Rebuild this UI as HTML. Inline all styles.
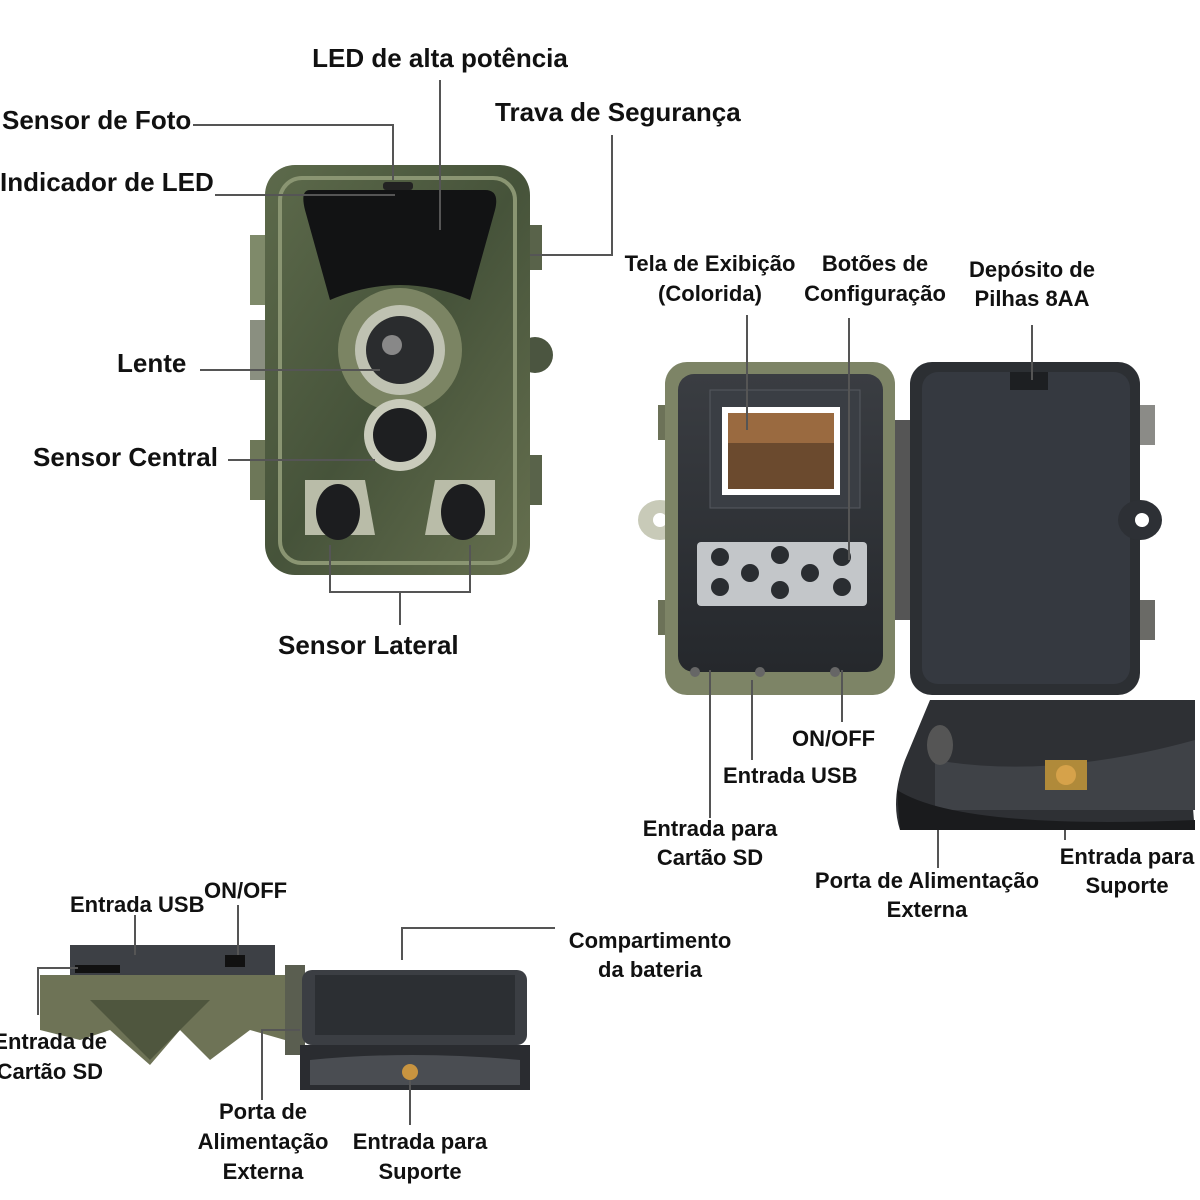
<!DOCTYPE html>
<html><head><meta charset="utf-8"><style>
html,body{margin:0;padding:0;background:#fff}
svg{display:block}
text{font-family:"Liberation Sans",sans-serif;font-weight:bold;fill:#111}
</style></head><body>
<svg width="1200" height="1200" viewBox="0 0 1200 1200" xmlns="http://www.w3.org/2000/svg">
<defs>
<linearGradient id="cam" x1="0" y1="0" x2="1" y2="1"><stop offset="0" stop-color="#5d6a4b"/><stop offset=".5" stop-color="#46533a"/><stop offset="1" stop-color="#66704f"/></linearGradient>
<linearGradient id="dark" x1="0" y1="0" x2="0" y2="1"><stop offset="0" stop-color="#3a3d42"/><stop offset="1" stop-color="#25282c"/></linearGradient>
</defs>
<rect x="250" y="235" width="30" height="70" fill="#7f8a6a"/>
<rect x="250" y="320" width="30" height="60" fill="#8a8f80"/>
<rect x="250" y="440" width="30" height="60" fill="#6d7758"/>
<rect x="520" y="225" width="22" height="45" fill="#59634a"/>
<rect x="520" y="455" width="22" height="50" fill="#59634a"/>
<circle cx="535" cy="355" r="18" fill="#4b5540"/>
<rect x="265" y="165" width="265" height="410" rx="30" fill="url(#cam)"/>
<rect x="280" y="178" width="235" height="385" rx="22" fill="none" stroke="#8a9572" stroke-width="4"/>
<path d="M310 190 H485 Q500 190 495 210 L470 300 Q400 270 330 300 L305 210 Q300 190 310 190Z" fill="#121314"/>
<rect x="383" y="182" width="30" height="8" rx="3" fill="#222"/>
<circle cx="400" cy="350" r="62" fill="#7b8463"/>
<circle cx="400" cy="350" r="45" fill="#bfc2b2"/>
<circle cx="400" cy="350" r="34" fill="#2a2c2e"/>
<circle cx="392" cy="345" r="10" fill="#888"/>
<circle cx="400" cy="435" r="36" fill="#c9cbbb"/>
<circle cx="400" cy="435" r="27" fill="#1e1f21"/>
<path d="M305 480 h60 l10 55 h-70Z" fill="#b9bca8"/>
<path d="M435 480 h60 v55 h-70Z" fill="#b9bca8"/>
<ellipse cx="338" cy="512" rx="22" ry="28" fill="#1c1d1f"/>
<ellipse cx="463" cy="512" rx="22" ry="28" fill="#1c1d1f"/>
<g stroke="#555" stroke-width="2" fill="none">
<path d="M193 125 H393 V180"/>
<path d="M215 195 H395"/>
<path d="M440 80 V230"/>
<path d="M612 135 V255 H530"/>
<path d="M200 370 H380"/>
<path d="M228 460 H375"/>
<path d="M330 545 V592 H470 V545"/>
<path d="M400 592 V625"/>
</g>
<text x="440" y="67" font-size="26" text-anchor="middle">LED de alta potência</text>
<text x="2" y="129" font-size="26">Sensor de Foto</text>
<text x="495" y="121" font-size="26">Trava de Segurança</text>
<text x="0" y="191" font-size="26">Indicador de LED</text>
<text x="117" y="372" font-size="26">Lente</text>
<text x="33" y="466" font-size="26">Sensor Central</text>
<text x="278" y="654" font-size="26">Sensor Lateral</text>

<rect x="658" y="405" width="15" height="35" fill="#6c7258"/>
<rect x="658" y="600" width="15" height="35" fill="#6c7258"/>
<ellipse cx="660" cy="520" rx="22" ry="20" fill="#c8cab8"/>
<circle cx="660" cy="520" r="7" fill="#fff"/>
<rect x="665" y="362" width="230" height="333" rx="22" fill="#7d8466"/>
<rect x="678" y="374" width="205" height="298" rx="16" fill="url(#dark)"/>
<rect x="895" y="420" width="20" height="200" fill="#555"/>
<rect x="910" y="362" width="230" height="333" rx="22" fill="#2c2f33"/>
<rect x="922" y="372" width="208" height="312" rx="16" fill="#353940"/>
<rect x="1010" y="372" width="38" height="18" fill="#1d1f22"/>
<rect x="1140" y="405" width="15" height="40" fill="#8b8b87"/>
<rect x="1140" y="600" width="15" height="40" fill="#6a6a66"/>
<ellipse cx="1140" cy="520" rx="22" ry="20" fill="#2d3035"/>
<circle cx="1142" cy="520" r="7" fill="#fff"/>
<rect x="710" y="390" width="150" height="118" fill="#3a3e44" stroke="#55595f"/>
<rect x="722" y="407" width="118" height="88" fill="#fff"/>
<rect x="728" y="413" width="106" height="76" fill="#6b4a2e"/>
<rect x="728" y="413" width="106" height="30" fill="#9a6a40"/>
<rect x="697" y="542" width="170" height="64" rx="4" fill="#c3c6c9"/>
<g fill="#2a2d31">
<circle cx="720" cy="557" r="9"/><circle cx="720" cy="587" r="9"/>
<circle cx="780" cy="555" r="9"/><circle cx="750" cy="573" r="9"/><circle cx="810" cy="573" r="9"/><circle cx="780" cy="590" r="9"/>
<circle cx="842" cy="557" r="9"/><circle cx="842" cy="587" r="9"/>
</g>
<g fill="#666"><circle cx="695" cy="672" r="5"/><circle cx="760" cy="672" r="5"/><circle cx="835" cy="672" r="5"/></g>
<g stroke="#555" stroke-width="2" fill="none">
<path d="M747 315 V430"/>
<path d="M849 318 V560"/>
<path d="M1032 325 V380"/>
<path d="M710 670 V818"/>
<path d="M752 680 V760"/>
<path d="M842 670 V722"/>
<path d="M938 755 V868"/>
<path d="M1065 790 V840"/>
</g>
<text x="710" y="271" font-size="22" text-anchor="middle">Tela de Exibição</text>
<text x="710" y="301" font-size="22" text-anchor="middle">(Colorida)</text>
<text x="875" y="271" font-size="22" text-anchor="middle">Botões de</text>
<text x="875" y="301" font-size="22" text-anchor="middle">Configuração</text>
<text x="1032" y="277" font-size="22" text-anchor="middle">Depósito de</text>
<text x="1032" y="306" font-size="22" text-anchor="middle">Pilhas 8AA</text>
<text x="792" y="746" font-size="22">ON/OFF</text>
<text x="723" y="783" font-size="22">Entrada USB</text>
<text x="710" y="836" font-size="22" text-anchor="middle">Entrada para</text>
<text x="710" y="865" font-size="22" text-anchor="middle">Cartão SD</text>
<text x="927" y="888" font-size="22" text-anchor="middle">Porta de Alimentação</text>
<text x="927" y="917" font-size="22" text-anchor="middle">Externa</text>
<text x="1127" y="864" font-size="22" text-anchor="middle">Entrada para</text>
<text x="1127" y="893" font-size="22" text-anchor="middle">Suporte</text>

<path d="M930 700 H1195 V740 Q1190 790 1195 830 H900 Q890 800 905 760Z" fill="#2e3034"/>
<path d="M935 760 Q1050 780 1195 740 V810 H935Z" fill="#3f4247"/>
<path d="M897 790 Q960 830 1195 820 V830 H900Z" fill="#1a1b1d"/>
<rect x="1045" y="760" width="42" height="30" fill="#b08a3a"/>
<circle cx="1066" cy="775" r="10" fill="#d6a24a"/>
<ellipse cx="940" cy="745" rx="13" ry="20" fill="#555"/>

<rect x="70" y="945" width="205" height="30" fill="#3d4045"/>
<rect x="225" y="955" width="20" height="12" fill="#111"/>
<rect x="75" y="965" width="45" height="8" fill="#111"/>
<path d="M40 975 H285 V1040 L250 1030 L210 1060 L180 1030 L150 1065 L110 1030 L80 1040 L40 1030Z" fill="#6e7356"/>
<path d="M90 1000 L150 1060 L210 1000 Z" fill="#4f563e"/>
<rect x="285" y="965" width="20" height="90" fill="#5a5e50"/>
<rect x="302" y="970" width="225" height="75" rx="10" fill="#3b3e43"/>
<rect x="315" y="975" width="200" height="60" fill="#2c2f33"/>
<path d="M300 1045 H530 V1090 H300Z" fill="#2a2c30"/>
<path d="M310 1060 Q410 1050 520 1060 V1085 H310Z" fill="#4a4d52"/>
<circle cx="410" cy="1072" r="8" fill="#c89440"/>
<g stroke="#555" stroke-width="2" fill="none">
<path d="M135 915 V955"/>
<path d="M238 905 V955"/>
<path d="M38 1015 V968 H78"/>
<path d="M402 960 V928 H555"/>
<path d="M262 1100 V1030 H300"/>
<path d="M410 1080 V1125"/>
</g>
<text x="70" y="912" font-size="22">Entrada USB</text>
<text x="204" y="898" font-size="22">ON/OFF</text>
<text x="650" y="948" font-size="22" text-anchor="middle">Compartimento</text>
<text x="650" y="977" font-size="22" text-anchor="middle">da bateria</text>
<text x="107" y="1049" font-size="22" text-anchor="end">Entrada de</text>
<text x="103" y="1079" font-size="22" text-anchor="end">Cartão SD</text>
<text x="263" y="1119" font-size="22" text-anchor="middle">Porta de</text>
<text x="263" y="1149" font-size="22" text-anchor="middle">Alimentação</text>
<text x="263" y="1179" font-size="22" text-anchor="middle">Externa</text>
<text x="420" y="1149" font-size="22" text-anchor="middle">Entrada para</text>
<text x="420" y="1179" font-size="22" text-anchor="middle">Suporte</text>
</svg>
</body></html>
